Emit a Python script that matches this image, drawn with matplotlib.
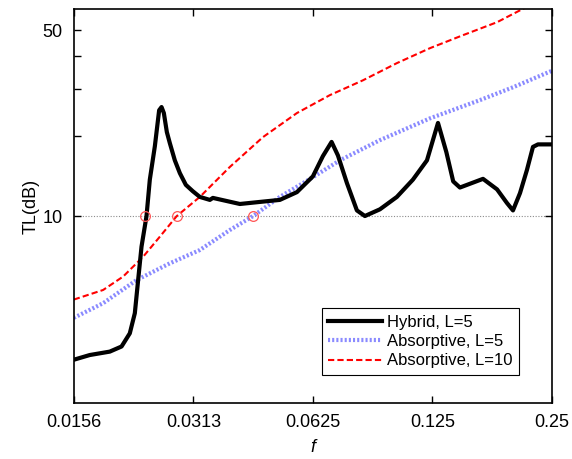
import numpy as np
from matplotlib import pyplot as plt

# values (frequency f, transmission loss in dB)
hybrid_f = [0.015625, 0.01714, 0.01925, 0.02061, 0.02162, 0.02226, 0.02269, 0.02314,
            0.02382, 0.02428, 0.0250, 0.02563, 0.02599, 0.02634, 0.0268, 0.02727,
            0.02807, 0.0289, 0.02992, 0.03115, 0.03245, 0.03439, 0.0350, 0.04093,
            0.04596, 0.0516, 0.05697, 0.0625, 0.06623, 0.06966, 0.07227, 0.07614,
            0.08067, 0.0845, 0.0922, 0.1017, 0.1116, 0.1211, 0.1291, 0.1355,
            0.1410, 0.1466, 0.1676, 0.1818, 0.1925, 0.1994, 0.2077, 0.2162,
            0.2239, 0.2305, 0.25]
hybrid_tl = [2.88, 3.00, 3.09, 3.23, 3.62, 4.31, 5.74, 7.67,
             10.0, 13.7, 18.3, 25.0, 25.7, 24.4, 20.7, 18.8,
             16.2, 14.5, 13.1, 12.4, 11.8, 11.5, 11.7, 11.1,
             11.3, 11.5, 12.3, 14.1, 16.8, 19.0, 16.9, 13.3,
             10.5, 10.0, 10.6, 11.8, 13.7, 16.2, 22.4, 17.4,
             13.5, 12.8, 13.8, 12.6, 11.2, 10.5, 12.2, 14.9,
             18.2, 18.6, 18.6]

abs5_f = [0.015625, 0.01852, 0.02248, 0.02727, 0.03245, 0.03862, 0.0442, 0.0516,
          0.0625, 0.0731, 0.0922, 0.1232, 0.1647, 0.1994, 0.25]
abs5_tl = [4.14, 4.70, 5.74, 6.64, 7.45, 8.86, 10.0, 11.8,
           14.0, 16.2, 19.3, 23.3, 27.3, 30.5, 35.2]

abs10_f = [0.015625, 0.01852, 0.0208, 0.02336, 0.02573, 0.02839, 0.03245, 0.03862,
           0.04677, 0.05697, 0.06897, 0.08353, 0.1017, 0.1232, 0.1492, 0.1818,
           0.2077, 0.25]
abs10_tl = [4.85, 5.27, 5.92, 7.03, 8.36, 10.0, 11.8, 15.3,
            19.8, 24.4, 28.5, 32.4, 37.6, 42.8, 47.9, 53.6,
            59.4, 68.4]

cross_f = [0.02368, 0.02839, 0.0442]
cross_tl = [10.0, 10.0, 10.0]

x_ticks = [0.015625, 0.03125, 0.0625, 0.125, 0.25]
x_labels = ["0.0156", "0.0313", "0.0625", "0.125", "0.25"]
y_ticks = [10, 20, 30, 40, 50]
y_labels = ["10", "", "", "", "50"]

plt.rcParams["font.family"] = ["Liberation Sans", "DejaVu Sans"]

fig = plt.figure(figsize=(5.72, 4.59), dpi=100)
ax = fig.add_axes([0.129, 0.122, 0.836, 0.858])

ax.axhline(10, color="0.55", lw=0.8, ls=(0, (1, 1.5)), zorder=1)
ax.plot(hybrid_f, hybrid_tl, color="black", lw=3, label="Hybrid, L=5", zorder=3,
        solid_joinstyle="round")
ax.plot(abs5_f, abs5_tl, color="#8a8aff", lw=3, ls=(0, (0.5, 0.5)),
        label="Absorptive, L=5", zorder=2)
ax.plot(abs10_f, abs10_tl, color="red", lw=1.5, ls=(0, (3, 1.5)),
        label="Absorptive, L=10", zorder=2)
ax.plot(cross_f, cross_tl, ls="none", marker="o", ms=7, mfc="none",
        mec="#ff5555", mew=0.9, zorder=4)

ax.set_xscale("log")
ax.set_yscale("log")
ax.set_xlim(0.015625, 0.25)
ax.set_ylim(1.98, 60)
ax.set_xticks(x_ticks)
ax.set_xticklabels(x_labels)
ax.set_yticks(y_ticks)
ax.set_yticklabels(y_labels)
ax.minorticks_off()
ax.tick_params(direction="in", top=True, right=True, length=5, width=1,
               labelsize=13, pad=8)
for s in ax.spines.values():
    s.set_linewidth(1.2)

ax.set_xlabel("f", fontsize=13, style="italic", labelpad=6)
ax.set_ylabel("TL(dB)", fontsize=13, labelpad=2)

leg = ax.legend(loc="lower right", bbox_to_anchor=(0.931, 0.071), fontsize=12,
                frameon=True, fancybox=False, edgecolor="black", framealpha=1,
                borderaxespad=0, handlelength=3.2, borderpad=0.4,
                labelspacing=0.25, handletextpad=0.3)
leg.get_frame().set_linewidth(0.8)

fig.savefig("out.png", dpi=100)
